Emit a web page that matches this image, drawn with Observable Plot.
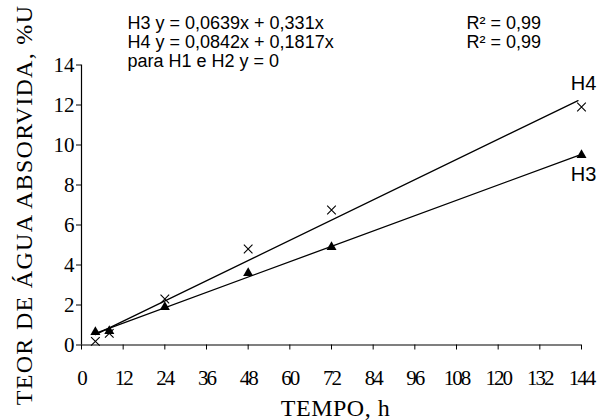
<!DOCTYPE html>
<html>
<head>
<meta charset="utf-8">
<script src="https://cdn.jsdelivr.net/npm/d3@7"></script>
<script src="https://cdn.jsdelivr.net/npm/@observablehq/plot@0.6"></script>
<style>
  html, body { margin: 0; padding: 0; background: #fff; }
</style>
</head>
<body>
<div id="chart"></div>
<script>
// --- data ---
const hours = [4, 8, 24, 48, 72, 144];
const h3 = [0.65, 0.7, 1.9, 3.6, 4.9, 9.5];
const h4 = [0.18, 0.58, 2.3, 4.8, 6.75, 11.9];

const fitNames = ["H3", "H4"];
const fitSlope = [0.0639, 0.0842];
const fitIntercept = [0.331, 0.1817];
const fitRange = [4, 143];

const xTicks = [0, 12, 24, 36, 48, 60, 72, 84, 96, 108, 120, 132, 144];
const yTicks = [0, 2, 4, 6, 8, 10, 12, 14];

const eqLines = ["H3 y = 0,0639x + 0,331x", "H4 y = 0,0842x + 0,1817x", "para H1 e H2 y = 0"];
const r2Lines = ["R\u00b2 = 0,99", "R\u00b2 = 0,99"];
const xTitle = "TEMPO, h";
const yTitle = "TEOR DE \u00c1GUA ABSORVIDA, %U";

// --- derived tables ---
const ptsH3 = hours.map((h, i) => ({x: h, y: h3[i]}));
const ptsH4 = hours.map((h, i) => ({x: h, y: h4[i]}));
const fits = [];
fitNames.forEach((n, k) => fitRange.forEach(x => fits.push({name: n, x, y: fitSlope[k] * x + fitIntercept[k]})));
const lastH3 = [{x: hours[hours.length - 1], y: h3[h3.length - 1], t: "H3"}];
const lastH4 = [{x: hours[hours.length - 1], y: h4[h4.length - 1], t: "H4"}];

const sans = "Liberation Sans, Arial, sans-serif";
const serif = "Liberation Serif, Times New Roman, serif";

const lineStep = 19;
const firstLineDy = -41.5;

const eqMarks = eqLines.map((t, i) => Plot.text([t], {
  frameAnchor: "top-left", text: d => d, textAnchor: "start", lineAnchor: "middle",
  dx: 46, dy: firstLineDy + lineStep * i, fontFamily: sans, fontSize: 18
}));
const r2Marks = r2Lines.map((t, i) => Plot.text([t], {
  frameAnchor: "top-left", text: d => d, textAnchor: "start", lineAnchor: "middle",
  dx: 385, dy: firstLineDy + lineStep * i, fontFamily: sans, fontSize: 18
}));

const chart = Plot.plot({
  width: 604,
  height: 420,
  marginTop: 64.5,
  marginBottom: 75.5,
  marginLeft: 81,
  marginRight: 23,
  style: {fontFamily: serif, fontSize: "18px", background: "#fff", color: "#000"},
  x: {domain: [0, 144], ticks: xTicks},
  y: {domain: [0, 14], ticks: yTicks},
  marks: [
    Plot.axisX({ticks: xTicks, tickSize: 5, tickFormat: () => "", label: null}),
    Plot.axisY({ticks: yTicks, tickSize: 5, tickFormat: () => "", label: null}),
    Plot.text(xTicks, {x: d => d, text: d => String(d), frameAnchor: "bottom", lineAnchor: "middle",
      dy: 33.5, fontFamily: serif, fontSize: 21, className: "xtl"}),
    Plot.text(yTicks, {y: d => d, text: d => String(d), frameAnchor: "left", textAnchor: "end",
      dx: -7, fontFamily: serif, fontSize: 21}),
    Plot.ruleY([0], {stroke: "#000", strokeWidth: 1.2}),
    Plot.ruleX([0], {stroke: "#000", strokeWidth: 1.2}),
    Plot.line(fits, {x: "x", y: "y", z: "name", stroke: "#000", strokeWidth: 1.3}),
    Plot.dot(ptsH3, {x: "x", y: "y", symbol: "triangle2", r: 4.8, fill: "#000", stroke: "none"}),
    Plot.dot(ptsH4, {x: "x", y: "y", symbol: "times", r: 4, stroke: "#000", strokeWidth: 1.1}),
    Plot.text(lastH4, {x: "x", y: "y", text: "t", dx: 2, dy: -23, fontFamily: sans, fontSize: 20}),
    Plot.text(lastH3, {x: "x", y: "y", text: "t", dx: 2, dy: 20, fontFamily: sans, fontSize: 20}),
    ...eqMarks,
    ...r2Marks,
    Plot.text([xTitle], {frameAnchor: "bottom", text: d => d, textAnchor: "middle", dx: 4, dy: 63, lineAnchor: "middle", fontFamily: serif, fontSize: 24}),
    Plot.text([yTitle], {frameAnchor: "left", text: d => d, textAnchor: "middle", dx: -57, rotate: -90, lineAnchor: "middle", fontFamily: serif, fontSize: 24})
  ]
});
const svg = d3.select(chart);
// typographic spacing of titles and x tick labels
svg.selectAll("text").each(function () {
  const s = this.textContent;
  const el = d3.select(this);
  if (s === yTitle) el.style("letter-spacing", "1.3px");
  else if (s === xTitle) el.style("letter-spacing", "0.5px");
});
svg.selectAll(".xtl text, text.xtl").style("letter-spacing", "-2px");
document.getElementById("chart").append(chart);
</script>
</body>
</html>
